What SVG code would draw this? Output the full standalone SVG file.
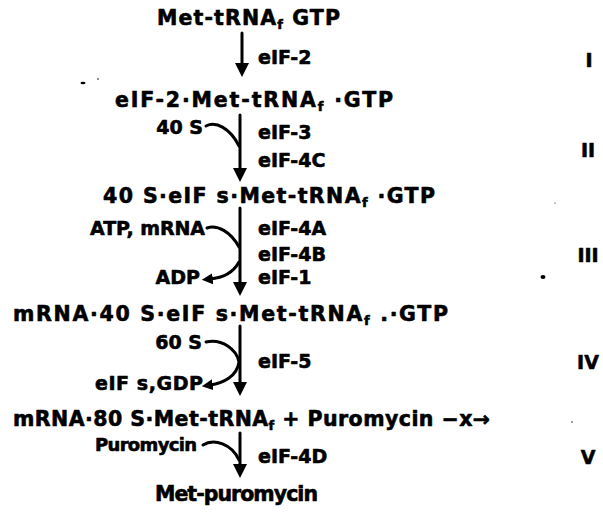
<svg xmlns="http://www.w3.org/2000/svg" width="603" height="516" viewBox="0 0 603 516">
<style>
text{font-family:"DejaVu Sans","Liberation Sans",sans-serif;font-weight:bold;font-size:19px;fill:#000;stroke:#000;stroke-width:0.6;stroke-linejoin:round}
.m{font-size:20.5px}
.sub{font-size:13px}
.p{font-size:18px}
.c{fill:none;stroke:#000;stroke-width:3;stroke-linecap:round}
</style>
<defs>
<marker id="ah" viewBox="0 0 14 14" refX="4" refY="7" markerWidth="14" markerHeight="14" markerUnits="userSpaceOnUse" orient="auto">
<path d="M0,0 L14,7 L0,14 Z" fill="#000"/>
</marker>
<marker id="ahs" viewBox="0 0 12 12" refX="3" refY="6" markerWidth="11" markerHeight="11" markerUnits="userSpaceOnUse" orient="auto">
<path d="M0,0 L12,6 L0,12 Z" fill="#000"/>
</marker>
</defs>
<rect width="603" height="516" fill="#fff"/>
<g id="n1"><text class="m" x="157" y="25" textLength="183" lengthAdjust="spacing">Met-tRNA<tspan class="sub" dy="4">f</tspan><tspan dy="-4">  GTP</tspan></text></g>
<g id="n2"><text class="m" x="115" y="107" textLength="278" lengthAdjust="spacing">eIF-2·Met-tRNA<tspan class="sub" dy="4">f</tspan><tspan dy="-4"> ·GTP</tspan></text></g>
<g id="n3"><text class="m" x="103" y="203" textLength="332" lengthAdjust="spacing">40 S·eIF s·Met-tRNA<tspan class="sub" dy="4">f</tspan><tspan dy="-4"> ·GTP</tspan></text></g>
<g id="n4"><text class="m" x="13" y="321" textLength="435" lengthAdjust="spacing">mRNA·40 S·eIF s·Met-tRNA<tspan class="sub" dy="4">f</tspan><tspan dy="-4"> .·GTP</tspan></text></g>
<g id="n5"><text class="m" x="13" y="426" textLength="477" lengthAdjust="spacing">mRNA·80 S·Met-tRNA<tspan class="sub" dy="4">f</tspan><tspan dy="-4">  + Puromycin −x→</tspan></text></g>
<g id="n6"><text class="m" x="155" y="501" textLength="163" lengthAdjust="spacing">Met-puromycin</text></g>
<g id="labels">
<text x="258" y="64">eIF-2</text>
<text x="203" y="134" text-anchor="end">40 S</text>
<text x="258" y="139">eIF-3</text>
<text x="258" y="167">eIF-4C</text>
<text x="205" y="235" text-anchor="end" textLength="115" lengthAdjust="spacing">ATP, mRNA</text>
<text x="258" y="235">eIF-4A</text>
<text x="258" y="261">eIF-4B</text>
<text x="258" y="284">eIF-1</text>
<text x="200" y="284" text-anchor="end">ADP</text>
<text x="202" y="349" text-anchor="end">60 S</text>
<text x="258" y="368">eIF-5</text>
<text x="203" y="390" text-anchor="end" textLength="108" lengthAdjust="spacing">eIF s,GDP</text>
<text class="p" x="197" y="451" text-anchor="end" textLength="102" lengthAdjust="spacing">Puromycin</text>
<text x="258" y="463">eIF-4D</text>
</g>
<g id="steps">
<text x="589" y="67" text-anchor="middle">I</text>
<text x="588" y="157" text-anchor="middle">II</text>
<text x="588" y="262" text-anchor="middle">III</text>
<text x="588" y="369" text-anchor="middle">IV</text>
<text x="588" y="464" text-anchor="middle">V</text>
</g>
<g id="connectors">
<path class="c" d="M242,33 V67" marker-end="url(#ah)"/>
<path class="c" d="M240,115 V172" marker-end="url(#ah)"/>
<path class="c" d="M206,126 C216,121 230,128 239,146"/>
<path class="c" d="M240,208 V286" marker-end="url(#ah)"/>
<path class="c" d="M207,228 C217,224 231,232 239,247"/>
<path class="c" d="M239,262 C233,273 222,278 210,279" marker-end="url(#ahs)"/>
<path class="c" d="M240,326 V386" marker-end="url(#ah)"/>
<path class="c" d="M206,342 C222,338 237,350 239,362 C237,376 224,383 210,385" marker-end="url(#ahs)"/>
<path class="c" d="M240,433 V468" marker-end="url(#ah)"/>
<path class="c" d="M203,445 C214,438 232,444 239,460"/>
</g>
<g id="specks" fill="#000">
<ellipse cx="543" cy="277" rx="2.5" ry="2"/>
<ellipse cx="83" cy="83" rx="2.5" ry="1.2"/>
<circle cx="98" cy="79" r="0.8"/>
<circle cx="555" cy="203" r="0.6"/>
<circle cx="572" cy="422" r="0.7"/>
</g>
</svg>
